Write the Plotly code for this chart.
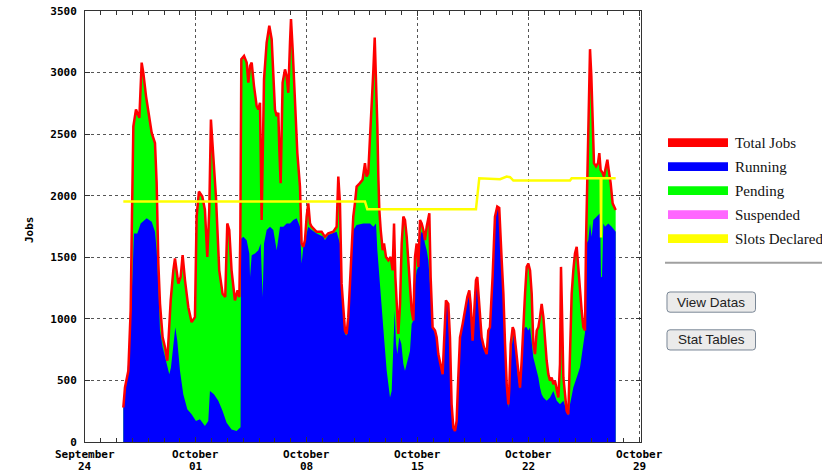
import plotly.graph_objects as go
import pandas as pd

START = "2012-09-24 00:00"
RANGE_END_HOURS = 842.9

# Total jobs (red line / top of the green pending area): hours since START, jobs
total_hours = [
    58.1, 60.6, 65.7, 69.2, 71.2, 73.3, 77.3, 82.4, 85.9, 88.4, 92.5, 97.5, 101.1, 106.1,
    108.6, 111.2, 113.7, 117.7, 121.3, 124.8, 127.8, 129.9, 133.9, 136.4, 141.5, 145.0,
    148.0, 151.6, 156.6, 161.6, 166.7, 169.2, 172.7, 177.8, 181.8, 185.4, 188.4, 190.9,
    194.5, 198.5, 203.5, 208.6, 212.6, 215.7, 218.7, 222.2, 227.3, 231.3, 234.0, 235.5,
    237.0, 241.1, 245.1, 247.6, 250.2, 252.7, 256.2, 260.3, 262.8, 265.3, 267.8, 271.4,
    275.4, 279.4, 283.0, 285.5, 288.0, 290.6, 293.1, 294.6, 296.6, 299.6, 303.2, 305.7,
    308.2, 310.8, 312.3, 314.8, 318.3, 321.9, 325.9, 328.4, 331.0, 333.5, 336.0, 338.5,
    341.1, 343.6, 351.2, 358.7, 363.8, 368.8, 376.4, 381.5, 384.0, 386.5, 389.0, 391.6,
    394.1, 396.6, 399.1, 401.7, 404.2, 406.7, 409.2, 411.8, 416.8, 420.8, 424.4, 426.9,
    429.4, 434.6, 437.2, 439.2, 441.2, 443.2, 444.7, 446.2, 448.3, 451.3, 453.3, 456.3,
    459.9, 463.4, 466.4, 468.5, 470.5, 472.5, 475.0, 477.6, 480.1, 482.6, 485.1, 487.7,
    490.2, 492.7, 495.2, 497.8, 500.3, 502.8, 505.3, 507.9, 510.4, 512.9, 515.4, 518.0,
    520.5, 522.0, 524.0, 527.0, 530.6, 533.1, 535.6, 539.2, 542.2, 544.2, 547.2, 550.8,
    553.3, 555.8, 558.4, 560.9, 563.4, 565.9, 568.5, 572.5, 576.0, 579.6, 582.6, 584.6,
    587.6, 589.7, 592.7, 594.7, 597.7, 601.3, 604.8, 608.9, 611.4, 613.9, 617.9, 621.5,
    625.0, 628.0, 631.7, 634.3, 636.8, 639.3, 641.8, 643.3, 645.4, 648.4, 650.4, 653.4,
    657.0, 659.5, 662.0, 664.6, 667.1, 669.6, 672.1, 674.7, 677.2, 679.7, 682.2, 684.8,
    687.3, 689.8, 692.3, 694.9, 697.4, 699.9, 702.4, 705.0, 707.5, 710.0, 712.5, 715.1,
    717.6, 720.1, 721.6, 723.1, 725.2, 727.7, 730.2, 732.7, 735.3, 737.8, 740.3, 742.8,
    745.4, 747.9, 750.4, 752.9, 755.5, 758.0, 759.5, 761.5, 763.5, 765.6, 767.6, 769.6,
    771.6, 774.7, 777.7, 779.7, 781.7, 784.8, 786.8, 788.8, 791.9, 793.9, 796.9, 799.9,
    804.5,
]
total_jobs = [
    280, 443, 578, 1068, 1830, 2564, 2700, 2632, 3081, 3000, 2809, 2618, 2510, 2428,
    2102, 1449, 1122, 850, 769, 660, 932, 1150, 1394, 1490, 1286, 1340,
    1517, 1313, 1095, 973, 1014, 1830, 2034, 1993, 1884, 1503, 1884, 2618,
    2319, 1993, 1394, 1204, 1177, 1775, 1721, 1394, 1150, 1231, 1177, 1700,
    3108, 3135, 3081, 2918, 3054, 3081, 2890, 2727, 2700, 2754, 1802, 2945,
    3244, 3380, 3271, 2972, 2700, 2645, 2673, 2374, 2102, 2918, 3026, 2972,
    2836, 3244, 3434, 3190, 2754, 2346, 2074, 1612, 1585, 1639, 1830, 1938,
    1775, 1748, 1707, 1707, 1666, 1694, 1707, 1748, 2156, 1938, 1286, 1122,
    905, 878, 1014, 1286, 1612, 1830, 1938, 2074, 2102, 2129, 2265, 2156,
    2183, 2700, 3026, 3285, 2972, 2564, 2156, 1884, 1721, 1558, 1612, 1503,
    1476, 1503, 1394, 1775, 1340, 1068, 878, 1122, 1612, 1830, 1802, 1666,
    1476, 1231, 1068, 986, 1503, 1612, 1422, 1802, 1775, 1721, 1639, 1748,
    1830, 1857, 1340, 932, 905, 850, 714, 633, 551, 796, 1150, 1122,
    850, 306, 116, 89, 170, 524, 850, 959, 1068, 1177, 1231, 1122,
    823, 1014, 1313, 1340, 1122, 850, 769, 714, 905, 932, 1340, 1830,
    1911, 1900, 1476, 1204, 796, 470, 306, 443, 796, 932, 905, 742,
    524, 442, 660, 1014, 1204, 1422, 1449, 1394, 1204, 796, 714, 905,
    932, 1014, 1122, 1014, 823, 660, 551, 497, 524, 470, 497, 415,
    361, 633, 1422, 1068, 524, 388, 252, 225, 796, 1204, 1394, 1530,
    1585, 1394, 1204, 1068, 932, 905, 1612, 2210, 2700, 3190, 2972, 2482,
    2265, 2238, 2265, 2346, 2210, 2183, 2156, 2210, 2292, 2210, 2102, 1938,
    1884,
]

# Running jobs (top of the blue area)
running_hours = [
    58.1, 63.2, 68.2, 71.2, 74.3, 79.3, 84.4, 93.5, 101.1, 106.1, 108.6, 111.2, 113.7,
    117.7, 122.7, 127.8, 130.3, 133.9, 136.9, 139.9, 144.0, 149.0, 155.1, 161.6, 168.2,
    174.3, 181.8, 186.9, 189.4, 195.5, 202.1, 208.6, 214.7, 222.2, 229.8, 235.8, 236.6,
    240.1, 245.1, 249.1, 250.2, 252.7, 257.7, 262.8, 266.3, 269.3, 271.4, 275.4, 280.5,
    285.5, 290.6, 295.6, 300.7, 305.7, 310.8, 315.8, 320.9, 325.9, 328.4, 331.0, 333.5,
    338.5, 343.6, 351.2, 361.3, 363.8, 368.8, 381.5, 386.5, 389.0, 391.6, 394.1, 396.6,
    399.1, 401.7, 404.2, 406.7, 411.8, 421.9, 432.1, 437.2, 441.2, 443.2, 446.2, 449.8,
    453.3, 457.4, 459.9, 462.4, 464.9, 467.5, 469.5, 471.5, 473.5, 476.5, 479.6, 482.6,
    485.1, 487.7, 490.2, 492.7, 495.2, 497.8, 500.3, 502.8, 505.3, 507.9, 510.4, 512.9,
    515.4, 518.0, 520.5, 523.0, 524.0, 527.0, 530.6, 533.1, 535.6, 539.2, 542.2, 544.2,
    547.2, 550.8, 553.3, 555.8, 558.4, 560.9, 563.4, 565.9, 568.5, 572.5, 576.0, 579.6,
    582.6, 584.6, 587.6, 589.7, 592.7, 594.7, 597.7, 601.3, 604.8, 608.9, 611.4, 613.9,
    617.9, 621.5, 625.0, 628.0, 631.7, 634.3, 636.8, 639.3, 641.8, 644.4, 646.9, 649.4,
    651.9, 654.5, 657.0, 659.5, 662.0, 664.6, 667.1, 669.6, 672.1, 674.7, 677.2, 679.7,
    682.2, 684.8, 687.3, 689.8, 692.3, 694.9, 699.9, 705.0, 710.0, 715.1, 720.1, 725.2,
    730.2, 732.7, 735.3, 740.3, 745.4, 750.4, 755.5, 758.0, 760.5, 763.0, 765.6, 768.1,
    770.6, 775.7, 780.8, 782.3, 783.8, 785.8, 788.4, 793.4, 798.5, 804.5,
]
running_jobs = [
    280, 500, 823, 1340, 1694, 1694, 1775, 1816, 1789, 1707, 1558, 1286, 905,
    769, 660, 551, 606, 796, 932, 823, 578, 388, 266, 225, 170,
    184, 130, 170, 415, 388, 334, 252, 157, 102, 89, 120, 1650,
    1666, 1639, 1530, 1340, 1517, 1530, 1558, 1612, 1177, 1612, 1721, 1748,
    1721, 1558, 1748, 1748, 1775, 1775, 1802, 1816, 1748, 1449, 1585, 1639,
    1748, 1721, 1694, 1666, 1639, 1680, 1707, 1612, 1258, 1068, 878, 864,
    986, 1231, 1558, 1721, 1762, 1775, 1775, 1748, 1775, 1558, 1367, 1068,
    850, 578, 442, 361, 415, 796, 1068, 796, 714, 850, 796, 633,
    578, 633, 687, 742, 959, 986, 1286, 1394, 1422, 1666, 1707, 1694,
    1612, 1558, 1476, 1286, 1340, 932, 905, 850, 714, 633, 551, 796,
    1150, 1122, 850, 306, 116, 89, 170, 524, 850, 959, 1068, 1177,
    1231, 1122, 823, 1014, 1313, 1340, 1122, 850, 769, 714, 905, 932,
    1340, 1830, 1911, 1900, 1449, 1177, 742, 415, 279, 524, 769, 877,
    796, 633, 497, 430, 578, 905, 932, 932, 905, 932, 796, 687,
    633, 578, 524, 442, 388, 361, 334, 361, 415, 334, 306, 334,
    240, 215, 306, 442, 524, 606, 796, 890, 1612, 1639, 1775, 1666,
    1802, 1830, 1857, 1340, 1340, 1775, 1748, 1775, 1748, 1707,
]

# Slots declared (yellow line)
slots_hours = [58.1, 424.4, 428.0, 592.7, 597.7, 629.2, 639.3, 644.4, 649.4, 735.3,
               737.8, 781.8, 782.3, 782.8, 804.5]
slots_declared = [1953, 1953, 1890, 1890, 2142, 2134, 2156, 2150, 2123, 2123,
                  2142, 2142, 1660, 2142, 2142]

tick_dates = ["2012-09-24", "2012-10-01", "2012-10-08", "2012-10-15", "2012-10-22", "2012-10-29"]
tick_months = ["September", "October", "October", "October", "October", "October"]
tick_days = ["24", "01", "08", "15", "22", "29"]
y_ticks = [0, 500, 1000, 1500, 2000, 2500, 3000, 3500]

legend_names = ["Total Jobs", "Running", "Pending", "Suspended", "Slots Declared"]
legend_colors = ["#ff0000", "#0000ff", "#00ff00", "#ff66ff", "#ffff00"]
button_labels = ["View Datas", "Stat Tables"]


def to_time(hours):
    return pd.Timestamp(START) + pd.to_timedelta(hours, unit="h")


# ---- layout geometry (pixels) ----
FW, FH = 822, 473
L, R, T, B = 85, 181, 11, 31
W = FW - L - R
H = FH - T - B


def px(x):
    return (x - L) / W


def py(y):
    return (FH - B - y) / H


fig = go.Figure()
# Pending shows as green between running and total
fig.add_trace(go.Scatter(x=to_time(total_hours), y=total_jobs, mode="lines",
                         line=dict(width=0, color="#00ff00"), fill="tozeroy",
                         fillcolor="#00ff00", hoverinfo="skip"))
fig.add_trace(go.Scatter(x=to_time(running_hours), y=running_jobs, mode="lines",
                         line=dict(width=0, color="#0000ff"), fill="tozeroy",
                         fillcolor="#0000ff", hoverinfo="skip"))
fig.add_trace(go.Scatter(x=to_time(total_hours), y=total_jobs, mode="lines",
                         line=dict(width=2.5, color="#ff0000"), hoverinfo="skip"))
fig.add_trace(go.Scatter(x=to_time(slots_hours), y=slots_declared, mode="lines",
                         line=dict(width=2.5, color="#ffff00"), hoverinfo="skip"))

tickfont = dict(family="DejaVu Sans Mono", size=11, color="#000000", weight="bold")
axis_common = dict(showline=True, linecolor="#333333", linewidth=1, mirror="ticks",
                   ticks="inside", ticklen=5, tickcolor="#333333", showgrid=True,
                   gridcolor="#555555", griddash="dot", gridwidth=1, zeroline=False,
                   tickfont=tickfont, automargin=False, fixedrange=True)

fig.update_xaxes(type="date", range=[pd.Timestamp(START), to_time(RANGE_END_HOURS)],
                 tickmode="array", tickvals=tick_dates, showticklabels=False,
                 minor=dict(dtick=86400000, tick0=START, ticks="inside", ticklen=4,
                            tickcolor="#333333", showgrid=False),
                 **axis_common)
fig.update_yaxes(range=[0, 3500], tickmode="array", tickvals=y_ticks,
                 ticklabelstandoff=5, **axis_common)

shapes = []
annotations = []

# two-line date labels under the x axis
for d, mon, day in zip(tick_dates, tick_months, tick_days):
    annotations.append(dict(text=mon, xref="x", yref="paper", x=d, y=py(455),
                            xanchor="center", yanchor="middle", showarrow=False,
                            borderpad=0, font=tickfont))
    annotations.append(dict(text=day, xref="x", yref="paper", x=d, y=py(466.5),
                            xanchor="center", yanchor="middle", showarrow=False,
                            borderpad=0, font=tickfont))

for i, (name, col) in enumerate(zip(legend_names, legend_colors)):
    y0 = 138.3 + 24 * i
    shapes.append(dict(type="rect", xref="paper", yref="paper", x0=px(668), x1=px(728),
                       y0=py(y0 + 8.6), y1=py(y0), fillcolor=col, line=dict(width=0)))
    annotations.append(dict(text=name, xref="paper", yref="paper", x=px(732.5), y=py(y0 + 4.3),
                            xanchor="left", yanchor="middle", showarrow=False,
                            font=dict(family="Liberation Serif", size=15, color="#111111")))

shapes.append(dict(type="line", xref="paper", yref="paper", x0=px(665), x1=px(822),
                   y0=py(262.7), y1=py(262.7), line=dict(color="#a0a0a0", width=2)))


def rounded_rect(x0, y0, x1, y1, r):
    X = lambda v: f"{px(v):.5f}"
    Y = lambda v: f"{py(v):.5f}"
    return (f"M {X(x0 + r)},{Y(y0)} L {X(x1 - r)},{Y(y0)} Q {X(x1)},{Y(y0)} {X(x1)},{Y(y0 + r)} "
            f"L {X(x1)},{Y(y1 - r)} Q {X(x1)},{Y(y1)} {X(x1 - r)},{Y(y1)} "
            f"L {X(x0 + r)},{Y(y1)} Q {X(x0)},{Y(y1)} {X(x0)},{Y(y1 - r)} "
            f"L {X(x0)},{Y(y0 + r)} Q {X(x0)},{Y(y0)} {X(x0 + r)},{Y(y0)} Z")


for i, label in enumerate(button_labels):
    top = 292 + 37.8 * i
    shapes.append(dict(type="path", xref="paper", yref="paper",
                       path=rounded_rect(667, top, 755.5, top + 20.2, 3),
                       fillcolor="#ebebeb", line=dict(color="#7a8796", width=1)))
    annotations.append(dict(text=label, xref="paper", yref="paper", x=px(711.2), y=py(top + 10.1),
                            xanchor="center", yanchor="middle", showarrow=False,
                            font=dict(family="Liberation Sans", size=13.5, color="#222222")))

annotations.append(dict(text="Jobs", xref="paper", yref="paper", x=px(30), y=py(230),
                        xanchor="center", yanchor="middle", textangle=-90, showarrow=False,
                        font=tickfont))

fig.update_layout(width=FW, height=FH, margin=dict(l=L, r=R, t=T, b=B, pad=0),
                  paper_bgcolor="#ffffff", plot_bgcolor="#ffffff", showlegend=False,
                  shapes=shapes, annotations=annotations, hovermode=False)

fig.write_html("out.html", config={"displayModeBar": False})
